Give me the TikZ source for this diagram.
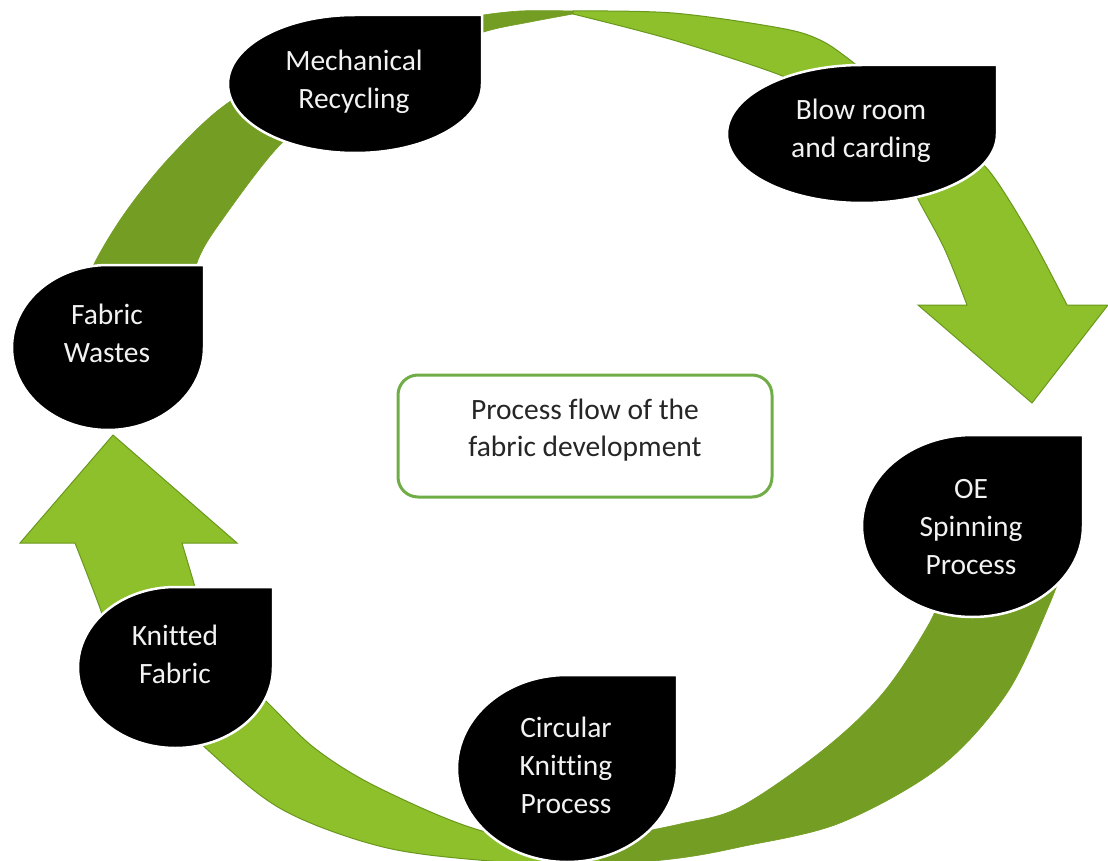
\documentclass[tikz,border=0pt]{standalone}
\usepackage{fontspec}
\setmainfont{Carlito}[Ligatures={NoCommon,NoContextual}]
\definecolor{darkg}{RGB}{115,157,35}
\definecolor{brightg}{RGB}{141,192,42}
\definecolor{edgeg}{RGB}{106,152,30}
\definecolor{boxg}{RGB}{112,173,71}
\definecolor{nodetxt}{RGB}{242,242,242}
\definecolor{titletxt}{RGB}{38,38,38}
\newcommand{\tdrop}[5]{%
  \pgfmathsetmacro\tdcx{(#2+#4)/2}%
  \pgfmathsetmacro\tdcy{(#3+#5)/2}%
  \pgfmathsetmacro\tdkx{0.5523*(#4-#2)/2}%
  \pgfmathsetmacro\tdky{0.5523*(#5-#3)/2}%
  \path[#1] (#4,#3) -- (#4,\tdcy)
    .. controls (#4,\tdcy+\tdky) and (\tdcx+\tdkx,#5) .. (\tdcx,#5)
    .. controls (\tdcx-\tdkx,#5) and (#2,\tdcy+\tdky) .. (#2,\tdcy)
    .. controls (#2,\tdcy-\tdky) and (\tdcx-\tdkx,#3) .. (\tdcx,#3) -- cycle;%
}
\begin{document}
\begin{tikzpicture}[x=1pt,y=-1pt,
  dropshape/.style={fill=black,draw=white,line width=2.5pt},
  droptext/.style={text=nodetxt,font=\fontsize{29.5}{38}\selectfont,align=center,inner sep=0pt},
  darkband/.style={fill=darkg,draw=darkg,line width=0.6pt,line join=round},
  brightband/.style={fill=brightg,draw=edgeg,line width=1pt,line join=miter},
  titlebox/.style={draw=boxg,line width=3pt,fill=white,rounded corners=20pt,minimum width=374pt,minimum height=122pt,inner sep=0pt},
  titletext/.style={text=titletxt,font=\fontsize{29.5}{37}\selectfont,align=center,inner sep=0pt}]
\useasboundingbox (0,0) rectangle (1108,861);
\clip (0,0) rectangle (1108,861);

% ---- upper circular arrow: dark tail (left), twist at top, bright head (right)
\path[darkband] plot[smooth,tension=0.55] coordinates {(70,320) (95,262) (127,210) (170,157) (225,105) (300,62) (400,30) (470,17) (520,11) (573,11)}
  -- plot[smooth,tension=0.55] coordinates {(573,14) (530,22) (487,31) (440,48) (380,82) (320,115) (278,147) (227,213) (198,260) (185,320)} -- cycle;
\path[brightband] plot[smooth,tension=0.55] coordinates {(573,11) (673,13) (780,28) (820,40) (850,60) (880,85) (925,120) (962,150) (990,172) (1030,235) (1067,305)}
  -- (1108,305) -- (1032,403) -- (918,305) -- (967,305)
  -- plot[smooth,tension=0.55] coordinates {(967,305) (945,250) (920,203) (900,165) (870,130) (830,100) (780,75) (673,40) (573,14)} -- cycle;

% ---- lower circular arrow: dark tail (right), twist at bottom, bright head (left)
\path[darkband] plot[smooth,tension=0.55] coordinates {(1065,560) (1050,603) (1007,693) (940,767) (840,823) (740,847) (680,858) (600,866)}
  -- plot[smooth,tension=0.55] coordinates {(600,840) (680,824) (740,807) (823,750) (883,693) (930,622) (945,580)} -- cycle;
\path[brightband] plot[smooth,tension=0.55] coordinates {(600,866) (490,861) (383,847) (283,810) (210,752) (150,690) (110,640) (100,608) (75,543)}
  -- (20,543) -- (113,435) -- (237,543) -- (182,543)
  -- plot[smooth,tension=0.55] coordinates {(182,543) (193,580) (205,620) (235,670) (270,705) (317,750) (383,790) (490,833) (600,840)} -- cycle;

% ---- teardrop shapes
\tdrop{dropshape}{228}{15}{482}{153}
\tdrop{dropshape}{727}{65}{997}{203}
\tdrop{dropshape}{862}{435}{1083}{617}
\tdrop{dropshape}{457}{675}{677}{862}
\tdrop{dropshape}{78}{587}{273}{748}
\tdrop{dropshape}{12}{265}{204}{430}

% ---- labels
\node[droptext] (mech) at (354,82) {\strut Mechanical\\Recycling\strut};
\node[droptext] (blow) at (861,131) {\strut Blow room\\and carding\strut};
\node[droptext] (oe) at (971,529) {\strut OE\\Spinning\\Process\strut};
\node[droptext] (circ) at (566,768) {\strut Circular\\Knitting\\Process\strut};
\node[droptext] (knit) at (175,657) {\strut Knitted\\Fabric\strut};
\node[droptext] (waste) at (107,336) {\strut Fabric\\Wastes\strut};

% ---- centre box
\node[titlebox] (box) at (585,436) {};
\node[titletext] (title) at (585,431) {\strut Process flow of the\\fabric development\strut};
\end{tikzpicture}
\end{document}
